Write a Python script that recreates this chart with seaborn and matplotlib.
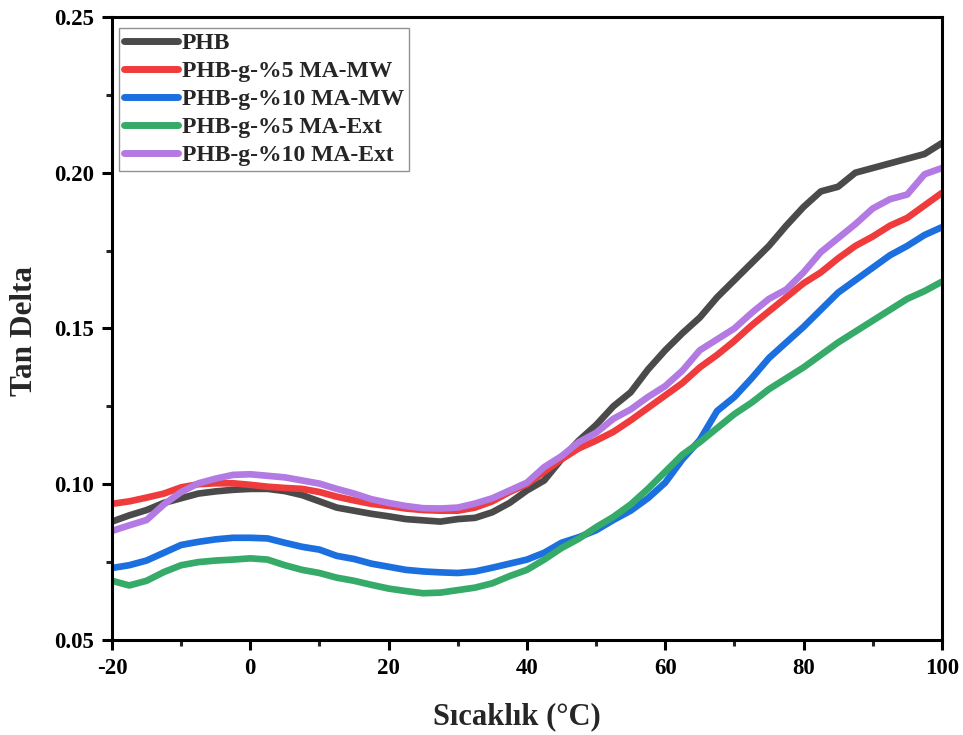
import numpy as np
import pandas as pd
import matplotlib
matplotlib.use("Agg")
import matplotlib.pyplot as plt
import seaborn as sns
from matplotlib.ticker import MultipleLocator, FormatStrFormatter

temperature = [-20, -17.5, -15, -12.5, -10, -7.5, -5, -2.5, 0, 2.5, 5, 7.5, 10, 12.5, 15, 17.5,
               20, 22.5, 25, 27.5, 30, 32.5, 35, 37.5, 40, 42.5, 45, 47.5, 50, 52.5, 55, 57.5,
               60, 62.5, 65, 67.5, 70, 72.5, 75, 77.5, 80, 82.5, 85, 87.5, 90, 92.5, 95, 97.5, 100]

phb = [0.088, 0.090, 0.0917, 0.094, 0.0955, 0.097, 0.0977, 0.0982, 0.0985, 0.0985, 0.0978, 0.0965,
       0.0945, 0.0925, 0.0915, 0.0905, 0.0897, 0.0888, 0.0884, 0.088, 0.0888, 0.0892, 0.091, 0.094,
       0.098, 0.1012, 0.108, 0.114, 0.119, 0.125, 0.1295, 0.1368, 0.143, 0.1485, 0.1535, 0.160,
       0.1655, 0.171, 0.1765, 0.183, 0.189, 0.194, 0.1955, 0.200, 0.2015, 0.203, 0.2045, 0.206, 0.2095]

ma5_mw = [0.0937, 0.0945, 0.0957, 0.097, 0.099, 0.100, 0.1003, 0.1003, 0.0998, 0.0992, 0.0988, 0.0985,
          0.0975, 0.096, 0.0948, 0.0937, 0.093, 0.0922, 0.0917, 0.0915, 0.0915, 0.0925, 0.0945, 0.0975,
          0.100, 0.104, 0.108, 0.1115, 0.114, 0.1168, 0.1205, 0.1245, 0.1285, 0.1325, 0.1375, 0.1415,
          0.146, 0.151, 0.1555, 0.160, 0.1645, 0.168, 0.1725, 0.1765, 0.1795, 0.183, 0.1855, 0.1895, 0.1935]

ma10_mw = [0.0731, 0.074, 0.0755, 0.078, 0.0805, 0.0815, 0.0823, 0.0828, 0.0828, 0.0826, 0.0812, 0.0799,
           0.079, 0.077, 0.076, 0.0745, 0.0735, 0.0725, 0.072, 0.0717, 0.0715, 0.072, 0.0732, 0.0745,
           0.0758, 0.078, 0.0812, 0.083, 0.0852, 0.0885, 0.0915, 0.0955, 0.1005, 0.108, 0.1142, 0.1235,
           0.128, 0.134, 0.1405, 0.1455, 0.1505, 0.156, 0.1615, 0.1655, 0.1695, 0.1735, 0.1765, 0.180, 0.1825]

ma5_ext = [0.069, 0.0675, 0.069, 0.0718, 0.074, 0.075, 0.0755, 0.0758, 0.0762, 0.0758, 0.074, 0.0725,
           0.0715, 0.070, 0.069, 0.0677, 0.0665, 0.0657, 0.065, 0.0652, 0.066, 0.0668, 0.0682, 0.0705,
           0.0725, 0.0758, 0.0795, 0.0825, 0.0862, 0.0895, 0.0935, 0.0985, 0.104, 0.1095, 0.1135, 0.118,
           0.1225, 0.1262, 0.1305, 0.134, 0.1375, 0.1415, 0.1455, 0.149, 0.1525, 0.156, 0.1595, 0.162, 0.165]

ma10_ext = [0.085, 0.0868, 0.0885, 0.0935, 0.0975, 0.1003, 0.1018, 0.103, 0.1032, 0.1027, 0.1022, 0.1012,
            0.1002, 0.0985, 0.097, 0.0952, 0.094, 0.093, 0.0923, 0.0922, 0.0925, 0.0938, 0.0955, 0.098,
            0.1005, 0.1055, 0.109, 0.1135, 0.1165, 0.121, 0.124, 0.128, 0.1315, 0.1365, 0.143, 0.1465,
            0.150, 0.155, 0.1595, 0.1625, 0.168, 0.1745, 0.179, 0.1835, 0.1885, 0.1915, 0.193, 0.1995, 0.2015]

series_names = ["PHB", "PHB-g-%5 MA-MW", "PHB-g-%10 MA-MW", "PHB-g-%5 MA-Ext", "PHB-g-%10 MA-Ext"]
series_values = [phb, ma5_mw, ma10_mw, ma5_ext, ma10_ext]
colors = ["#4a4a4a", "#ef3b3b", "#1c6fde", "#36aa68", "#b27ae2"]

x_ticks = [-20, 0, 20, 40, 60, 80, 100]
y_ticks = [0.05, 0.10, 0.15, 0.20, 0.25]

frames = []
for name, vals in zip(series_names, series_values):
    frames.append(pd.DataFrame({"T": temperature, "tan": vals, "Sample": name}))
df = pd.concat(frames, ignore_index=True)

sns.set_theme(style="ticks")
plt.rcParams['font.family'] = ['Liberation Serif', 'DejaVu Serif']
plt.rcParams['font.weight'] = 'bold'
plt.rcParams['axes.unicode_minus'] = False

fig = plt.figure(figsize=(9.63, 7.35), dpi=100)
ax = fig.add_axes([0.1163, 0.1293, 0.8617, 0.8476])

sns.lineplot(data=df, x="T", y="tan", hue="Sample", hue_order=series_names,
             palette=colors, linewidth=4.8, ax=ax, sort=False, estimator=None,
             solid_capstyle="round")

ax.set_xlim(-20, 100)
ax.set_ylim(0.05, 0.25)
ax.set_xticks(x_ticks)
ax.set_yticks(y_ticks)
ax.xaxis.set_minor_locator(MultipleLocator(10))
ax.yaxis.set_minor_locator(MultipleLocator(0.025))
ax.yaxis.set_major_formatter(FormatStrFormatter('%.2f'))

for s in ax.spines.values():
    s.set_linewidth(2.2)
    s.set_color("black")

ax.tick_params(axis='both', which='major', direction='out', length=7, width=2.2,
               labelsize=16.5, pad=6, colors='black')
ax.tick_params(axis='both', which='minor', direction='out', length=4, width=2.2)
ax.tick_params(top=False, right=False, which='both')
for lbl in ax.get_xticklabels() + ax.get_yticklabels():
    lbl.set_fontweight('bold')

ax.set_xlabel("Sıcaklık (°C)", fontsize=22, fontweight='bold')
ax.set_ylabel("Tan Delta", fontsize=22.5, fontweight='bold')
ax.xaxis.set_label_coords(0.488, -0.1)
ax.yaxis.set_label_coords(-0.088, 0.496)

leg = ax.legend(loc="upper left", bbox_to_anchor=(0.003, 0.99), frameon=True, fancybox=False,
                prop={'size': 17, 'weight': 'bold', 'family': ['Liberation Serif']},
                handlelength=2.3, handletextpad=0.15, labelspacing=0.27, borderpad=0.2,
                borderaxespad=0.2)
leg.get_frame().set_edgecolor("#777777")
leg.get_frame().set_linewidth(1.0)
for line in leg.get_lines():
    line.set_linewidth(5)

fig.savefig("out.png", dpi=100)
